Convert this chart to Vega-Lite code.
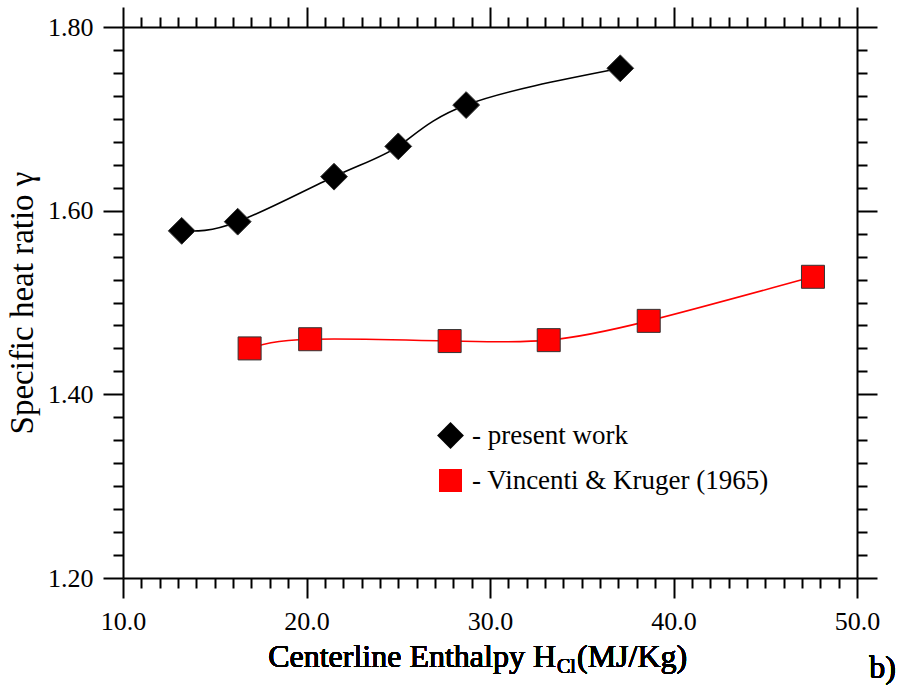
{
  "$schema": "https://vega.github.io/schema/vega-lite/v6.json",
  "width": 734,
  "height": 551,
  "autosize": {"type": "none"},
  "padding": {"left": 123, "top": 27, "right": 55, "bottom": 111},
  "background": "white",
  "config": {
    "view": {"stroke": null},
    "font": "Liberation Serif, Times New Roman, serif",
    "axis": {"labelFont": "Liberation Serif, Times New Roman, serif", "titleFont": "Liberation Serif, Times New Roman, serif", "labelColor": "black", "titleColor": "black", "domainColor": "black", "tickColor": "black", "domainWidth": 2, "tickWidth": 2, "grid": false, "labelFlush": false, "labelOverlap": false},
    "legend": {"labelFont": "Liberation Serif, Times New Roman, serif", "labelLimit": 0},
    "text": {"font": "Liberation Serif, Times New Roman, serif"}
  },
  "data": {
    "values": [
      {"series": "present work", "H": 13.2, "gamma": 1.578},
      {"series": "present work", "H": 16.25, "gamma": 1.588},
      {"series": "present work", "H": 21.5, "gamma": 1.637},
      {"series": "present work", "H": 25.0, "gamma": 1.670},
      {"series": "present work", "H": 28.7, "gamma": 1.715},
      {"series": "present work", "H": 37.1, "gamma": 1.755},
      {"series": "Vincenti & Kruger (1965)", "H": 16.9, "gamma": 1.450},
      {"series": "Vincenti & Kruger (1965)", "H": 20.2, "gamma": 1.460},
      {"series": "Vincenti & Kruger (1965)", "H": 27.8, "gamma": 1.458},
      {"series": "Vincenti & Kruger (1965)", "H": 33.2, "gamma": 1.459},
      {"series": "Vincenti & Kruger (1965)", "H": 38.65, "gamma": 1.480},
      {"series": "Vincenti & Kruger (1965)", "H": 47.6, "gamma": 1.528}
    ]
  },
  "layer": [
    {
      "mark": {"type": "line", "interpolate": "natural", "strokeWidth": 1.6},
      "encoding": {
        "x": {"field": "H", "type": "quantitative", "scale": {"domain": [10, 50], "nice": false, "zero": false},
          "axis": {"orient": "bottom", "title": null,
            "values": [10,11,12,13,14,15,16,17,18,19,20,21,22,23,24,25,26,27,28,29,30,31,32,33,34,35,36,37,38,39,40,41,42,43,44,45,46,47,48,49,50],
            "labelExpr": "datum.value % 10 === 0 ? format(datum.value, '.1f') : ''",
            "tickSize": {"condition": {"test": "datum.value % 10 === 0", "value": 20}, "value": 10},
            "labelFont": "Liberation Serif, Times New Roman, serif", "labelFontWeight": "normal",
            "labelFontSize": 26, "labelPadding": 10}},
        "y": {"field": "gamma", "type": "quantitative", "scale": {"domain": [1.2, 1.8], "nice": false, "zero": false},
          "axis": {"orient": "left", "title": "Specific heat ratio γ", "titleFont": "Liberation Serif, Times New Roman, serif", "titleFontSize": 33, "titleFontWeight": "normal", "titlePadding": 8,
            "values": [1.2,1.225,1.25,1.275,1.3,1.325,1.35,1.375,1.4,1.425,1.45,1.475,1.5,1.525,1.55,1.575,1.6,1.625,1.65,1.675,1.7,1.725,1.75,1.775,1.8],
            "labelExpr": "abs(datum.value*5 - round(datum.value*5)) < 0.001 ? format(datum.value, '.2f') : ''",
            "tickSize": {"condition": {"test": "abs(datum.value*5 - round(datum.value*5)) < 0.001", "value": 20}, "value": 10},
            "labelFont": "Liberation Serif, Times New Roman, serif", "labelFontWeight": "normal",
            "labelFontSize": 26, "labelPadding": 10}},
        "color": {"field": "series", "type": "nominal", "scale": {"domain": ["present work", "Vincenti & Kruger (1965)"], "range": ["#000000", "#ff0000"]},
          "legend": {"orient": "none", "legendX": 314, "legendY": 395, "title": null, "labelFont": "Liberation Serif, Times New Roman, serif", "labelFontSize": 27, "labelLimit": 0, "labelColor": "black", "symbolSize": 600, "rowPadding": 17, "labelOffset": 8, "padding": 0, "labelExpr": "'- ' + datum.label", "symbolStrokeWidth": 0}}
      }
    },
    {
      "mark": {"type": "point", "filled": true, "opacity": 1, "stroke": "#333333", "strokeWidth": 1},
      "encoding": {
        "x": {"field": "H", "type": "quantitative",
          "axis": {"orient": "top", "title": null, "labels": false,
            "values": [10,11,12,13,14,15,16,17,18,19,20,21,22,23,24,25,26,27,28,29,30,31,32,33,34,35,36,37,38,39,40,41,42,43,44,45,46,47,48,49,50],
            "tickSize": {"condition": {"test": "datum.value % 10 === 0", "value": 20}, "value": 10}}},
        "y": {"field": "gamma", "type": "quantitative",
          "axis": {"orient": "right", "title": null, "labels": false,
            "values": [1.2,1.225,1.25,1.275,1.3,1.325,1.35,1.375,1.4,1.425,1.45,1.475,1.5,1.525,1.55,1.575,1.6,1.625,1.65,1.675,1.7,1.725,1.75,1.775,1.8],
            "tickSize": {"condition": {"test": "abs(datum.value*5 - round(datum.value*5)) < 0.001", "value": 20}, "value": 10}}},
        "color": {"field": "series", "type": "nominal",
          "legend": {"orient": "none", "legendX": 314, "legendY": 395, "title": null, "labelFont": "Liberation Serif, Times New Roman, serif", "labelFontSize": 27, "labelLimit": 0, "labelColor": "black", "symbolSize": 600, "rowPadding": 17, "labelOffset": 8, "padding": 0, "labelExpr": "'- ' + datum.label", "symbolStrokeWidth": 0}},
        "shape": {"field": "series", "type": "nominal", "scale": {"domain": ["present work", "Vincenti & Kruger (1965)"], "range": ["diamond", "square"]},
          "legend": {"orient": "none", "legendX": 314, "legendY": 395, "title": null, "labelFont": "Liberation Serif, Times New Roman, serif", "labelFontSize": 27, "labelLimit": 0, "labelColor": "black", "symbolSize": 600, "rowPadding": 17, "labelOffset": 8, "padding": 0, "labelExpr": "'- ' + datum.label", "symbolStrokeWidth": 0}},
        "size": {"field": "series", "type": "nominal", "scale": {"domain": ["present work", "Vincenti & Kruger (1965)"], "range": [720, 529]}, "legend": null}
      }
    },
    {
      "mark": {"type": "text", "align": "right", "baseline": "alphabetic", "fontSize": 32, "font": "Liberation Serif, Times New Roman, serif", "fontWeight": "normal", "color": "black", "text": "Centerline Enthalpy H"},
      "encoding": {"x": {"datum": 33.6, "type": "quantitative", "axis": null}, "y": {"datum": 1.103, "type": "quantitative", "axis": null}}
    },
    {
      "mark": {"type": "text", "align": "left", "baseline": "alphabetic", "fontSize": 20, "font": "Liberation Serif, Times New Roman, serif", "fontWeight": "normal", "color": "black", "text": "Cl"},
      "encoding": {"x": {"datum": 33.65, "type": "quantitative", "axis": null}, "y": {"datum": 1.097, "type": "quantitative", "axis": null}}
    },
    {
      "mark": {"type": "text", "align": "left", "baseline": "alphabetic", "fontSize": 32, "font": "Liberation Serif, Times New Roman, serif", "fontWeight": "normal", "color": "black", "text": "(MJ/Kg)"},
      "encoding": {"x": {"datum": 34.74, "type": "quantitative", "axis": null}, "y": {"datum": 1.103, "type": "quantitative", "axis": null}}
    },
    {
      "mark": {"type": "text", "align": "center", "baseline": "alphabetic", "fontSize": 32, "font": "Liberation Serif, Times New Roman, serif", "fontWeight": "normal", "color": "black", "text": "b)"},
      "encoding": {"x": {"datum": 51.4, "type": "quantitative", "axis": null}, "y": {"datum": 1.091, "type": "quantitative", "axis": null}}
    }
  ],
  "resolve": {"axis": {"x": "independent", "y": "independent"}}
}
